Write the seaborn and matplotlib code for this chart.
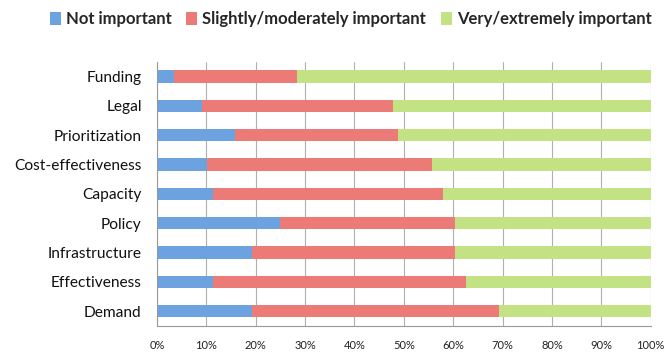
import matplotlib
matplotlib.use("Agg")
import matplotlib.pyplot as plt
import seaborn as sns
import pandas as pd
from matplotlib.patches import Patch

categories = ["Funding", "Legal", "Prioritization", "Cost-effectiveness", "Capacity",
              "Policy", "Infrastructure", "Effectiveness", "Demand"]
not_important = [3.4, 9.1, 15.9, 10.2, 11.3, 25.0, 19.3, 11.3, 19.3]
slightly_moderately = [25.0, 38.7, 32.9, 45.5, 46.6, 35.3, 41.0, 51.3, 50.0]
very_extremely = [71.6, 52.2, 51.2, 44.3, 42.1, 39.7, 39.7, 37.4, 30.7]
series_names = ["Not important", "Slightly/moderately important", "Very/extremely important"]
colors = ["#6da2e0", "#ec7a76", "#c2e284"]
x_ticks = [0, 10, 20, 30, 40, 50, 60, 70, 80, 90, 100]

df = pd.DataFrame({
    "category": categories,
    "s1": not_important,
    "s2": slightly_moderately,
    "s3": very_extremely,
})
# cumulative ends for stacking
df["c1"] = df["s1"]
df["c2"] = df["s1"] + df["s2"]
df["c3"] = df["c2"] + df["s3"]

sns.set_style("white")
plt.rcParams["font.family"] = ["Lato", "DejaVu Sans"]

fig = plt.figure(figsize=(6.64, 3.52), dpi=100)
ax = fig.add_axes([0.2364, 0.0739, 0.7436, 0.7500])

for col, color in zip(["c3", "c2", "c1"], colors[::-1]):
    sns.barplot(data=df, x=col, y="category", order=categories, orient="h",
                color=color, width=0.42, ax=ax, saturation=1, edgecolor="none")

ax.set_xlim(0, 100)
ax.set_ylim(len(categories) - 0.5, -0.5)
ax.set_xticks(x_ticks)
ax.set_xticklabels([f"{t}%" for t in x_ticks], fontsize=8, color="#222222")
ax.set_xlabel("")
ax.set_ylabel("")
ax.tick_params(axis="y", labelsize=11.2, length=0, pad=11, labelcolor="#111111")
ax.set_yticks(range(len(categories)), minor=False)
ax.set_yticks([i - 0.5 for i in range(len(categories) + 1)], minor=True)
ax.tick_params(axis="y", which="minor", length=4, color="#999999", width=0.8, direction="out")
ax.tick_params(axis="x", length=4, color="#999999", width=0.8, direction="out", pad=6)

ax.grid(axis="x", color="#b0b0b0", linewidth=0.8)
ax.set_axisbelow(True)
for side in ["top", "right"]:
    ax.spines[side].set_visible(False)
for side in ["left", "bottom"]:
    ax.spines[side].set_color("#999999")
    ax.spines[side].set_linewidth(0.8)

handles = [Patch(facecolor=c, edgecolor="none") for c in colors]
fig.legend(handles, series_names, loc="center", bbox_to_anchor=(0.528, 0.945), ncol=3,
           frameon=False, prop={"weight": "bold", "size": 12},
           handlelength=0.65, handleheight=0.75, handletextpad=0.3, columnspacing=0.9)

fig.savefig("out.png", dpi=100)
